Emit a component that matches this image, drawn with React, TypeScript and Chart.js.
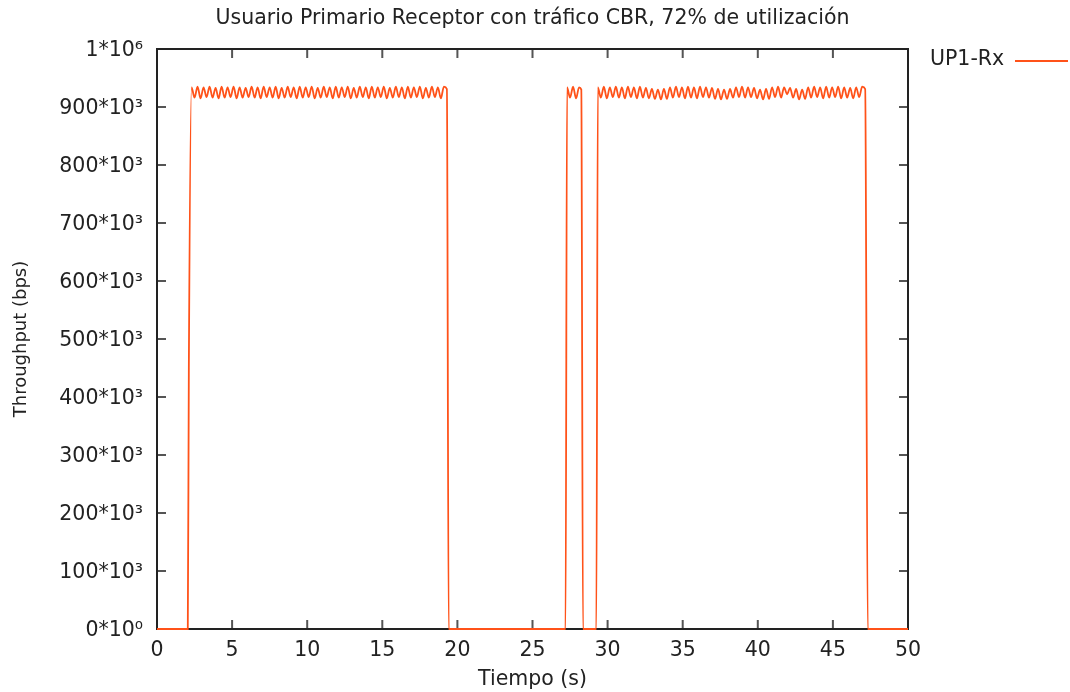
import { useEffect, useRef } from 'react';
import { Chart, registerables } from 'chart.js';

Chart.register(...registerables);

const chartTitle = 'Usuario Primario Receptor con tráfico CBR, 72% de utilización';
const xAxisTitle = 'Tiempo (s)';
const yAxisTitle = 'Throughput (bps)';
const seriesLabel = 'UP1-Rx';

const xTickValues = [0, 5, 10, 15, 20, 25, 30, 35, 40, 45, 50];
const yTickValues = [0, 100000, 200000, 300000, 400000, 500000, 600000, 700000, 800000, 900000, 1000000];
const yTickLabels = ['0*10⁰', '100*10³', '200*10³', '300*10³', '400*10³', '500*10³', '600*10³', '700*10³', '800*10³', '900*10³', '1*10⁶'];

// start-up (idle, then ramp)
const riseTime = [0, 2.05, 2.12];
const riseRx = [0, 0, 450000];

// first burst of received traffic
const burst1Time = [
  2.3, 2.5, 2.7, 2.9, 3.1, 3.3, 3.5, 3.7, 3.9, 4.1,
  4.3, 4.5, 4.7, 4.9, 5.1, 5.3, 5.5, 5.7, 5.9, 6.1,
  6.3, 6.5, 6.7, 6.9, 7.1, 7.3, 7.5, 7.7, 7.9, 8.1,
  8.3, 8.5, 8.7, 8.9, 9.1, 9.3, 9.5, 9.7, 9.9, 10.1,
  10.3, 10.5, 10.7, 10.9, 11.1, 11.3, 11.5, 11.7, 11.9, 12.1,
  12.3, 12.5, 12.7, 12.9, 13.1, 13.3, 13.5, 13.7, 13.9, 14.1,
  14.3, 14.5, 14.7, 14.9, 15.1, 15.3, 15.5, 15.7, 15.9, 16.1,
  16.3, 16.5, 16.7, 16.9, 17.1, 17.3, 17.5, 17.7, 17.9, 18.1,
  18.3, 18.5, 18.7, 18.9, 19.1, 19.3,
];
const burst1Rx = [
  934000, 916000, 935000, 915000, 934000, 917000, 935000, 916000, 933000, 915000,
  935000, 916000, 934000, 917000, 935000, 915000, 934000, 916000, 933000, 917000,
  935000, 916000, 934000, 915000, 935000, 917000, 934000, 916000, 935000, 915000,
  933000, 916000, 935000, 917000, 934000, 915000, 935000, 916000, 934000, 917000,
  935000, 915000, 933000, 916000, 935000, 917000, 934000, 915000, 935000, 916000,
  934000, 917000, 935000, 915000, 933000, 916000, 935000, 917000, 934000, 915000,
  935000, 916000, 934000, 917000, 935000, 915000, 933000, 916000, 935000, 917000,
  934000, 915000, 935000, 916000, 934000, 917000, 935000, 915000, 933000, 916000,
  935000, 917000, 934000, 915000, 935000, 931000,
];

const gap1Time = [19.42, 27.2];
const gap1Rx = [0, 0];

// short second burst
const burst2Time = [27.3, 27.5, 27.7, 27.9, 28.1, 28.25];
const burst2Rx = [934000, 916000, 935000, 915000, 934000, 930000];

const gap2Time = [28.36, 29.25];
const gap2Rx = [0, 0];

// third burst
const burst3Time = [
  29.35, 29.55, 29.75, 29.95, 30.15, 30.35, 30.55, 30.75, 30.95, 31.15,
  31.35, 31.55, 31.75, 31.95, 32.15, 32.35, 32.55, 32.75, 32.95, 33.15,
  33.35, 33.55, 33.75, 33.95, 34.15, 34.35, 34.55, 34.75, 34.95, 35.15,
  35.35, 35.55, 35.75, 35.95, 36.15, 36.35, 36.55, 36.75, 36.95, 37.15,
  37.35, 37.55, 37.75, 37.95, 38.15, 38.35, 38.55, 38.75, 38.95, 39.15,
  39.35, 39.55, 39.75, 39.95, 40.15, 40.35, 40.55, 40.75, 40.95, 41.15,
  41.35, 41.55, 41.75, 41.95, 42.15, 42.35, 42.55, 42.75, 42.95, 43.15,
  43.35, 43.55, 43.75, 43.95, 44.15, 44.35, 44.55, 44.75, 44.95, 45.15,
  45.35, 45.55, 45.75, 45.95, 46.15, 46.35, 46.55, 46.75, 46.95, 47.15,
];
const burst3Rx = [
  934000, 916000, 935000, 915000, 934000, 917000, 935000, 916000, 934000, 915000,
  935000, 917000, 934000, 915000, 935000, 916000, 933000, 915000, 931000, 914000,
  930000, 913000, 931000, 914000, 934000, 916000, 935000, 917000, 934000, 915000,
  935000, 916000, 934000, 915000, 935000, 917000, 934000, 916000, 933000, 914000,
  931000, 913000, 930000, 914000, 931000, 916000, 934000, 917000, 935000, 916000,
  934000, 917000, 933000, 915000, 930000, 913000, 931000, 914000, 934000, 917000,
  935000, 916000, 934000, 922000, 933000, 916000, 931000, 913000, 930000, 914000,
  934000, 916000, 935000, 917000, 934000, 915000, 935000, 916000, 934000, 917000,
  935000, 915000, 934000, 916000, 933000, 915000, 934000, 917000, 935000, 931000,
];

const tailTime = [47.32, 50];
const tailRx = [0, 0];

const allTime = [...riseTime, ...burst1Time, ...gap1Time, ...burst2Time, ...gap2Time, ...burst3Time, ...tailTime];
const allRx = [...riseRx, ...burst1Rx, ...gap1Rx, ...burst2Rx, ...gap2Rx, ...burst3Rx, ...tailRx];

const LINE_COLOR = '#ff5219';
const TEXT_COLOR = '#222222';
const FONT = '"DejaVu Sans", sans-serif';
const FONT_SIZE = 20.5;

const framePlugin = {
  id: 'gnuFrame',
  beforeDatasetsDraw(chart: any) {
    const { ctx, chartArea } = chart;
    const { left, right, top, bottom } = chartArea;
    const xs = chart.scales.x;
    const ys = chart.scales.y;
    ctx.save();
    ctx.strokeStyle = '#555555';
    ctx.lineWidth = 2;
    ctx.beginPath();
    const tl = 9;
    xs.ticks.forEach((t: any) => {
      const px = xs.getPixelForValue(t.value);
      ctx.moveTo(px, bottom);
      ctx.lineTo(px, bottom - tl);
      ctx.moveTo(px, top);
      ctx.lineTo(px, top + tl);
    });
    ys.ticks.forEach((t: any) => {
      const py = ys.getPixelForValue(t.value);
      ctx.moveTo(left, py);
      ctx.lineTo(left + tl, py);
      ctx.moveTo(right, py);
      ctx.lineTo(right - tl, py);
    });
    ctx.stroke();
    ctx.strokeStyle = '#222222';
    ctx.lineWidth = 2;
    ctx.strokeRect(left, top, right - left, bottom - top);
    ctx.restore();
  },
  afterDraw(chart: any) {
    const { ctx, chartArea } = chart;
    const ds = chart.data.datasets[0];
    const textX = chartArea.right + 22;
    const y = chartArea.top + 11;
    ctx.save();
    ctx.font = `${FONT_SIZE}px ${FONT}`;
    ctx.fillStyle = TEXT_COLOR;
    ctx.textAlign = 'left';
    ctx.textBaseline = 'middle';
    ctx.fillText(ds.label, textX, y);
    ctx.strokeStyle = ds.borderColor;
    ctx.lineWidth = 2;
    ctx.beginPath();
    ctx.moveTo(chartArea.right + 107, y + 1);
    ctx.lineTo(chartArea.right + 160, y + 1);
    ctx.stroke();
    ctx.restore();
  },
};

export default function App() {
  const canvasRef = useRef<HTMLCanvasElement | null>(null);

  useEffect(() => {
    document.body.style.margin = '0';
    const canvas = canvasRef.current;
    if (!canvas) return;
    const chart = new Chart(canvas, {
      type: 'line',
      data: {
        datasets: [
          {
            label: seriesLabel,
            data: allTime.map((t, i) => ({ x: t, y: allRx[i] })),
            borderColor: LINE_COLOR,
            backgroundColor: LINE_COLOR,
            borderWidth: 1.8,
            pointRadius: 0,
            cubicInterpolationMode: 'monotone',
            fill: false,
            clip: 4,
          } as any,
        ],
      },
      options: {
        animation: false,
        responsive: false,
        layout: { padding: { left: 0, right: 162, top: 0, bottom: 0 } },
        plugins: {
          legend: { display: false },
          tooltip: { enabled: false },
          title: {
            display: true,
            text: chartTitle,
            fullSize: false,
            color: TEXT_COLOR,
            font: { family: FONT, size: FONT_SIZE, weight: 'normal', lineHeight: 1.2 },
            padding: { top: 6, bottom: 18.4 },
          },
        },
        scales: {
          x: {
            type: 'linear',
            min: 0,
            max: 50,
            afterBuildTicks: (s: any) => {
              s.ticks = xTickValues.map((v) => ({ value: v }));
            },
            afterFit: (s: any) => {
              s.height = 63;
            },
            grid: { display: false, drawTicks: false },
            border: { display: false },
            ticks: {
              color: TEXT_COLOR,
              font: { family: FONT, size: FONT_SIZE },
              padding: 9,
              maxRotation: 0,
              autoSkip: false,
              callback: (v: any) => String(v),
            },
            title: {
              display: true,
              text: xAxisTitle,
              color: TEXT_COLOR,
              font: { family: FONT, size: FONT_SIZE, lineHeight: 1.2 },
              padding: { top: 0, bottom: 0 },
            },
          },
          y: {
            type: 'linear',
            min: 0,
            max: 1000000,
            afterBuildTicks: (s: any) => {
              s.ticks = yTickValues.map((v) => ({ value: v }));
            },
            afterFit: (s: any) => {
              s.width = 157;
            },
            grid: { display: false, drawTicks: false },
            border: { display: false },
            ticks: {
              color: TEXT_COLOR,
              font: { family: FONT, size: FONT_SIZE },
              padding: 14,
              labelOffset: 2,
              autoSkip: false,
              callback: (v: any) => {
                const i = yTickValues.indexOf(Number(v));
                return i >= 0 ? yTickLabels[i] : '';
              },
            },
            title: {
              display: true,
              text: yAxisTitle,
              color: TEXT_COLOR,
              font: { family: FONT, size: 18, lineHeight: 1.2 },
              padding: { top: 11, bottom: 0 },
            },
          },
        },
      },
      plugins: [framePlugin],
    });
    return () => chart.destroy();
  }, []);

  return (
    <div style={{ width: 1070, height: 692 }}>
      <canvas ref={canvasRef} width={1070} height={692} style={{ display: 'block' }} />
    </div>
  );
}
